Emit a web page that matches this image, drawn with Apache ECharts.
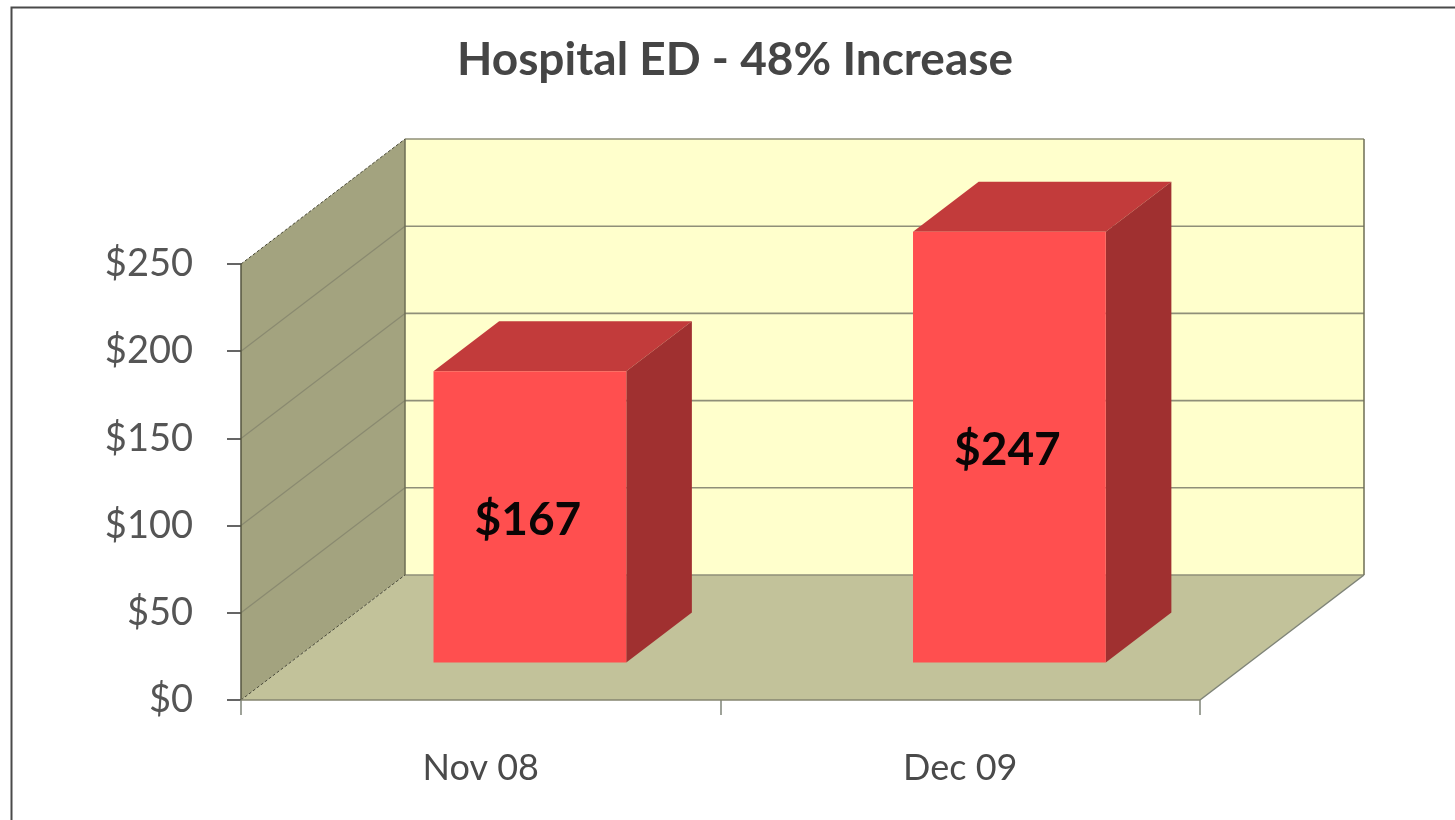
<!DOCTYPE html>
<html><head><meta charset="utf-8">
<style>html,body{margin:0;padding:0;background:#fff}#c{width:1455px;height:820px}</style>
<script src="https://cdn.jsdelivr.net/npm/echarts@6/dist/echarts.min.js"></script>
</head><body><div id="c"></div>
<script>
const categories = ['Nov 08', 'Dec 09'];
const values = [167, 247];
const barLabels = ['$167', '$247'];
const titleText = 'Hospital ED - 48% Increase';
const valueTicks = [0, 50, 100, 150, 200, 250];

const chart = echarts.init(document.getElementById('c'), null, {renderer: 'canvas'});
const DX = 164, DY = -125;
const BX0 = 0.30, BX1 = 0.70;
const FONT = 'Lato, "Open Sans", sans-serif';

function poly(points, fill, stroke, lw, dash) {
  return {type: 'polygon', silent: true, shape: {points},
    style: {fill: fill || 'none', stroke: stroke || 'none', lineWidth: lw || 0, lineDash: dash}};
}
function line(a, b, stroke, lw, dash) {
  return {type: 'line', silent: true, shape: {x1: a[0], y1: a[1], x2: b[0], y2: b[1]},
    style: {stroke, lineWidth: lw, lineDash: dash}};
}
const off = (p, dx, dy) => [p[0] + dx, p[1] + dy];

function renderBox(params, api) {
  const size = api.size([1, 0]);
  const o = api.coord([0, 0]);
  const x0 = o[0] - size[0] / 2, x1 = x0 + size[0] * 2;
  const y0 = o[1];
  const yTop = api.coord([0, 250])[1];
  const fl = [x0, y0], fr = [x1, y0], tl = [x0, yTop];
  const children = [
    poly([off(fl, DX, DY), off(fr, DX, DY), off([x1, yTop], DX, DY), off(tl, DX, DY)], '#FFFFCC'),
    poly([fl, fr, off(fr, DX, DY), off(fl, DX, DY)], '#C2C29A'),
    poly([fl, off(fl, DX, DY), off(tl, DX, DY), tl], '#A3A37F')
  ];
  valueTicks.forEach(v => {
    const y = api.coord([0, v])[1];
    const a = [x0, y], b = off(a, DX, DY), c = [x1 + DX, y + DY];
    if (v > 0 && v < 250) children.push(line(a, b, '#8A8A70', 1.2));
    children.push(line(b, c, '#8F8F78', 1.6));
  });
  children.push(line(off(fl, DX, DY), off(tl, DX, DY), '#6E6E55', 1.5));
  children.push(line(off([x1, y0], DX, DY), off([x1, yTop], DX, DY), '#6E6E55', 1.5));
  children.push(line(fl, off(fl, DX, DY), '#4A4A38', 1, [3, 2]));
  children.push(line(tl, off(tl, DX, DY), '#4A4A38', 1, [3, 2]));
  children.push(line(fr, off(fr, DX, DY), '#7F8478', 1.5));
  children.push(line(fl, tl, '#55553F', 1.5));
  children.push(line(fl, fr, '#85856F', 1.5));
  return {type: 'group', children};
}

function renderBar(params, api) {
  const idx = api.value(0), val = api.value(1);
  const band = api.size([1, 0])[0];
  const base = api.coord([idx, 0]), top = api.coord([idx, val]);
  const w = band * 0.402, cx = base[0] + band * 0.1025;
  const l = cx - w / 2 , r = cx + w / 2;
  const fdx = DX * BX0, fdy = DY * BX0;
  const sdx = DX * (BX1 - BX0), sdy = DY * (BX1 - BX0);
  const bl = [l, base[1] + fdy], br = [r, base[1] + fdy];
  const tl = [l, top[1] + fdy], tr = [r, top[1] + fdy];
  return {type: 'group', children: [
    poly([tl, tr, off(tr, sdx, sdy), off(tl, sdx, sdy)], '#C23B3B'),
    poly([br, tr, off(tr, sdx, sdy), off(br, sdx, sdy)], '#A03030'),
    poly([bl, br, tr, tl], '#FF4F4F'),
    {type: 'text', silent: true, x: cx - 2, y: (bl[1] + tl[1]) / 2 + 3, style: {
      text: barLabels[params.dataIndex], fill: '#0A0505', font: 'bold 46px ' + FONT,
      align: 'center', verticalAlign: 'middle'}}
  ]};
}

chart.setOption({
  animation: false,
  backgroundColor: '#ffffff',
  title: {text: titleText, left: 730, top: 32, textAlign: 'center',
    textStyle: {fontFamily: FONT, fontWeight: 'bold', fontSize: 46, color: '#454545'}},
  grid: {left: 241, right: 255, top: 264, bottom: 120},
  xAxis: {type: 'category', data: categories,
    axisLine: {show: false},
    axisTick: {show: true, length: 15, alignWithLabel: false, lineStyle: {color: '#7F8478', width: 1.5}},
    axisLabel: {fontFamily: FONT, fontSize: 36, color: '#4A4A4A', margin: 50},
    splitLine: {show: false}},
  yAxis: {type: 'value', min: 0, max: 250, interval: 50,
    axisLine: {show: false},
    axisTick: {show: true, length: 14, lineStyle: {color: '#333', width: 1.5}},
    axisLabel: {fontFamily: FONT, fontSize: 38, color: '#555555', margin: 48,
      formatter: v => '$' + v},
    splitLine: {show: false}},
  graphic: [{type: 'polyline', silent: true, z: 100,
    shape: {points: [[11.5, 820], [11.5, 7.5], [1455, 7.5]]},
    style: {stroke: '#4A4A4A', lineWidth: 2, fill: 'none'}}],
  series: [
    {type: 'custom', renderItem: renderBox, data: [[0, 0]], z: 1, clip: false, silent: true},
    {type: 'custom', renderItem: renderBar, z: 2, clip: false, silent: true,
      encode: {x: 0, y: 1},
      data: values.map((v, i) => [i, v])}
  ]
});
</script></body></html>
